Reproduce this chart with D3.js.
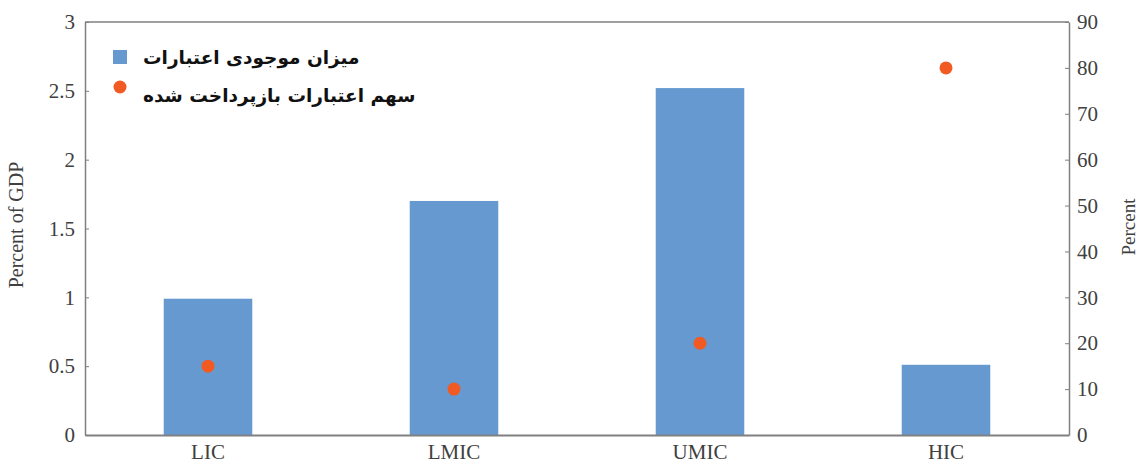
<!DOCTYPE html>
<html><head><meta charset="utf-8">
<script src="https://cdn.jsdelivr.net/npm/d3@7/dist/d3.min.js"></script>
<style>body{margin:0;background:#fff}svg{display:block}</style>
</head><body><svg id="c" width="1138" height="465"></svg>
<script>
const categories = ["LIC", "LMIC", "UMIC", "HIC"];
const creditStock = [0.99, 1.70, 2.52, 0.51];      // Percent of GDP (bars)
const repaidShare = [15, 10, 20, 80];              // Percent (dots)
const leftTicks = [0, 0.5, 1, 1.5, 2, 2.5, 3];
const rightTicks = [0, 10, 20, 30, 40, 50, 60, 70, 80, 90];
const legendLabels = ["میزان موجودی اعتبارات", "سهم اعتبارات بازپرداخت شده"];

const svg = d3.select("#c");
const L = 85, R = 1069, T = 22, B = 435;
const serif = "'Liberation Serif', 'DejaVu Serif', serif";
const axisCol = "#808080", textCol = "#404040";
const barCol = "#6699cf", dotCol = "#f15a22";

const x = d3.scaleBand().domain(categories).range([L, R]).paddingInner(0.64).paddingOuter(0.32);
const yL = d3.scaleLinear().domain([0, 3]).range([B, T]);
const yR = d3.scaleLinear().domain([0, 90]).range([B, T]);

// bars
svg.append("g").selectAll("rect").data(categories).join("rect")
  .attr("x", d => x(d)).attr("width", x.bandwidth())
  .attr("y", (d, i) => yL(creditStock[i])).attr("height", (d, i) => B - yL(creditStock[i]))
  .attr("fill", barCol);

// frame top
svg.append("line").attr("x1", L).attr("x2", R).attr("y1", T).attr("y2", T)
  .attr("stroke", axisCol).attr("stroke-width", 1.5);

function styleAxis(g) {
  g.select(".domain").attr("stroke", axisCol).attr("stroke-width", 1.5);
  g.selectAll(".tick line").attr("stroke", axisCol);
  g.selectAll(".tick text").attr("fill", textCol).attr("font-family", serif).attr("font-size", 21);
}

const gl = svg.append("g").attr("transform", `translate(${L},0)`)
  .call(d3.axisLeft(yL).tickValues(leftTicks).tickFormat(d3.format("~g")).tickSize(-4).tickSizeOuter(0).tickPadding(10));
styleAxis(gl);
const gr = svg.append("g").attr("transform", `translate(${R},0)`)
  .call(d3.axisRight(yR).tickValues(rightTicks).tickSize(-4).tickSizeOuter(0).tickPadding(8));
styleAxis(gr);
const gb = svg.append("g").attr("transform", `translate(0,${B})`)
  .call(d3.axisBottom(x).tickSize(0).tickPadding(9));
gb.select(".domain").attr("stroke", axisCol).attr("stroke-width", 2);
gb.selectAll(".tick text").attr("fill", textCol).attr("font-family", serif).attr("font-size", 21);

// dots
svg.append("g").selectAll("circle").data(categories).join("circle")
  .attr("cx", d => x(d) + x.bandwidth() / 2).attr("cy", (d, i) => yR(repaidShare[i]))
  .attr("r", 6.5).attr("fill", dotCol);

// axis titles
svg.append("text").attr("transform", `translate(23,225) rotate(-90)`)
  .attr("text-anchor", "middle").attr("font-family", serif).attr("font-size", 20).attr("fill", textCol)
  .text("Percent of GDP");
svg.append("text").attr("transform", `translate(1135,227) rotate(-90)`)
  .attr("text-anchor", "middle").attr("font-family", serif).attr("font-size", 19).attr("fill", textCol)
  .text("Percent");

// legend
const lg = svg.append("g");
lg.append("rect").attr("x", 113).attr("y", 50).attr("width", 14).attr("height", 14).attr("fill", barCol);
lg.append("circle").attr("cx", 120).attr("cy", 87).attr("r", 6.5).attr("fill", dotCol);
legendLabels.forEach((t, i) => {
  lg.append("text").attr("x", 143).attr("y", 64 + i * 38)
    .attr("font-family", "'DejaVu Sans', 'Noto Sans', sans-serif").attr("font-weight", "bold")
    .attr("font-size", 18.5).attr("fill", "#111").text(t);
});
</script></body></html>
